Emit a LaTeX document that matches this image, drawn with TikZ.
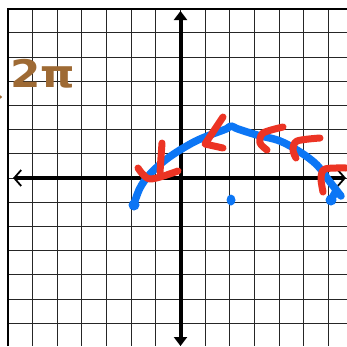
\documentclass[tikz,border=0pt]{standalone}
\usepackage{fontspec}
\newfontfamily\handfont{DejaVu Sans}
\usetikzlibrary{arrows.meta}
\definecolor{penblue}{RGB}{12,118,245}
\definecolor{penred}{RGB}{236,52,36}
\definecolor{penbrown}{RGB}{158,106,52}
\begin{document}
\begin{tikzpicture}[
    x=1pt, y=-1pt,
    gridline/.style={black!85, line width=1pt, dash pattern=on 1.5pt off 0.5pt},
    frame/.style={black, line width=2.8pt},
    axisline/.style={black, line width=4pt},
    blueink/.style={penblue, line width=7.5pt, line cap=round, line join=round},
    redink/.style={penred, line width=7pt, line cap=round, line join=round},
    lbl/.style={penbrown, font=\handfont\bfseries\fontsize{38}{38}\selectfont, inner sep=0pt}
]
    \useasboundingbox (0,0) rectangle (347,346);
    \fill[white] (0,0) rectangle (347,346);

    \foreach \i in {-6,...,6}
        \draw[gridline] ({180.5+\i*24.65},9) -- ({180.5+\i*24.65},346);
    \foreach \j in {-6,...,6}
        \draw[gridline] (8,{178+\j*24.2}) -- (347,{178+\j*24.2});
    \draw[frame] (8,346) -- (8,9) -- (347,9);

    \draw[axisline, {Triangle[width=13pt,length=9pt]}-{Triangle[width=13pt,length=9pt]}] (180.5,11) -- (180.5,346);
    \draw[axisline, {Straight Barb[length=7pt,width=16pt,line width=1.8pt]}-{Straight Barb[length=7pt,width=16pt,line width=1.8pt]}] (13,178) -- (346,178);

    \node[lbl, xscale=1.15] (period) at (43,74) {2π};
    \fill[penbrown] (0.5,97) circle (1.6);

    \draw[blueink] plot[smooth, tension=0.6] coordinates {(134,204) (140,188) (150,174) (168,158) (192,143) (210,135) (226,129) (231,126) (238,129) (257,135) (280,141) (300,152) (317,165) (330,182) (341,196)};
    \draw[blueink] (336,191) -- (331,200);
    \fill[penblue] (134,205) circle (5.5);
    \fill[penblue] (331,200) circle (5.5);
    \fill[penblue] (231,200) ellipse (4.5 and 5.5);

    \draw[redink] (162,143) -- (160,172);
    \draw[redink] plot[smooth] coordinates {(138,168) (150,179) (178,171)};
    \draw[redink] (223,117) -- (205,144) -- (223,148);
    \draw[redink] plot[smooth] coordinates {(283,127) (263,133) (260,143) (267,150)};
    \draw[redink] plot[smooth] coordinates {(320,138) (297,141) (293,150) (296,158)};
    \draw[redink] plot[smooth] coordinates {(346,168) (325,169) (321,178) (323,192)};
\end{tikzpicture}
\end{document}
